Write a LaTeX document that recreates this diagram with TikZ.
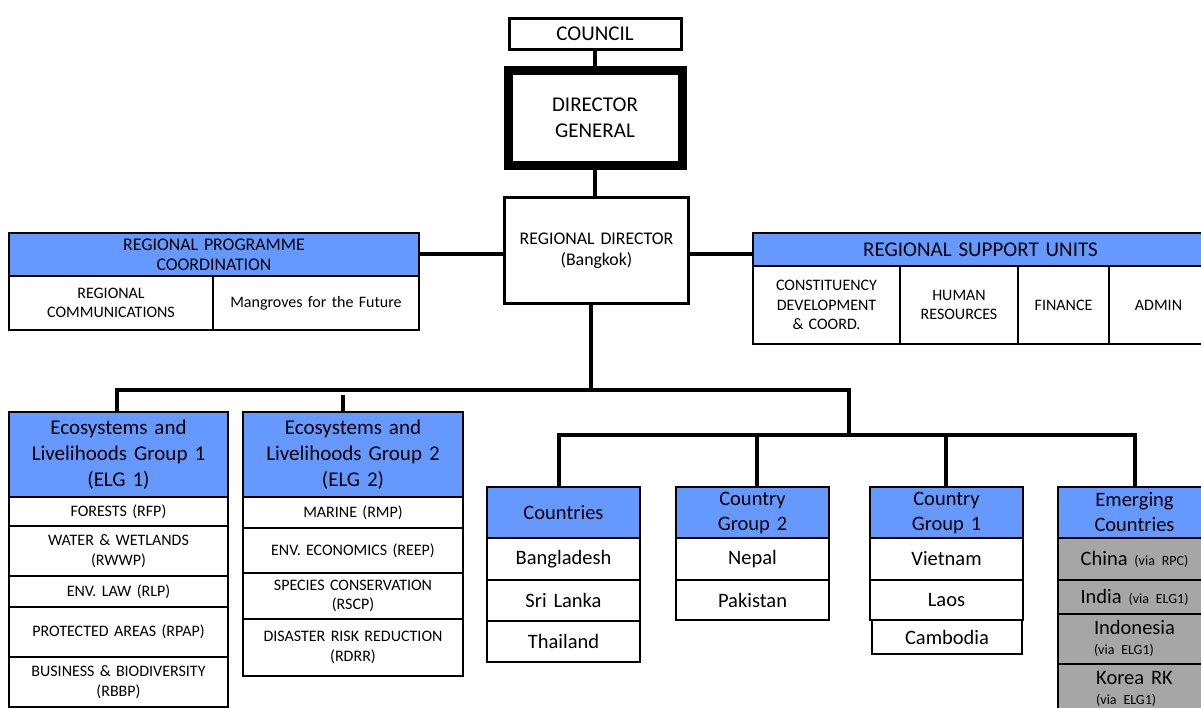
\documentclass[tikz,border=0pt]{standalone}
\usepackage{fontspec}
\setmainfont{Carlito}
\frenchspacing
\definecolor{hblue}{HTML}{6699FF}
\definecolor{egrey}{HTML}{A6A6A6}
\newcommand\orgcell[7]{%
  \pgfmathsetmacro\ocw{#4-#2}%
  \pgfmathsetmacro\och{#5-#3}%
  \pgfmathsetmacro\otw{#4-#2-8}%
  \node[#6, minimum width=\ocw pt, minimum height=\och pt, text width=\otw pt] (#1) at (#2,#3) {#7};}
\newcommand\fsm{\fontsize{14}{16}\selectfont}
\tikzset{
  cellbase/.style={draw=black, line width=1.3pt, inner sep=0pt, outer sep=0pt, align=center, anchor=north west, text=black},
  fbig/.style={font=\fontsize{21}{26}\selectfont\frenchspacing},
  fmid/.style={font=\fontsize{17.8}{21}\selectfont\frenchspacing},
  fcty/.style={font=\fontsize{20.5}{25}\selectfont\frenchspacing},
  hdr/.style={cellbase, fill=hblue},
  sub/.style={cellbase, fill=white, font=\fontsize{16}{19.5}\selectfont\frenchspacing},
  cty/.style={cellbase, fill=white, fcty},
  emr/.style={cellbase, fill=egrey, fcty},
  conn/.style={draw=black, line width=4pt}
}
\begin{document}
\begin{tikzpicture}[x=1pt,y=-1pt]
\useasboundingbox (0,0) rectangle (1201,708);
\fill[white] (0,0) rectangle (1201,708);
\clip (0,0) rectangle (1201,708);
% top chain
\orgcell{council}{509}{18.5}{681}{49.5}{cellbase, line width=3pt, fbig}{COUNCIL}
\orgcell{dg}{508}{70.5}{682}{165.5}{cellbase, line width=9pt, fbig}{DIRECTOR\\GENERAL}
\orgcell{rd}{504.5}{197.5}{688.5}{303.5}{cellbase, line width=3pt, fmid}{REGIONAL DIRECTOR\\(Bangkok)}
% regional programme coordination
\orgcell{rpch}{9}{233}{419}{276}{hdr, font=\fontsize{17.8}{20}\selectfont}{REGIONAL PROGRAMME\\COORDINATION}
\orgcell{rpc1}{9}{276}{213}{330}{sub}{REGIONAL\\COMMUNICATIONS}
\orgcell{rpc2}{213}{276}{419}{330}{sub}{Mangroves for the Future}
% regional support units
\orgcell{rsuh}{753}{233}{1208}{266}{hdr, fbig}{REGIONAL SUPPORT UNITS}
\orgcell{rsu1}{753}{266}{900}{344}{sub}{CONSTITUENCY\\DEVELOPMENT\\\& COORD.}
\orgcell{rsu2}{900}{266}{1018}{344}{sub}{HUMAN\\RESOURCES}
\orgcell{rsu3}{1018}{266}{1109}{344}{sub}{FINANCE}
\orgcell{rsu4}{1109}{266}{1208}{344}{sub}{ADMIN}
% ELG 1
\orgcell{e1h}{9}{412}{228}{497}{hdr, fbig}{Ecosystems and\\Livelihoods Group 1\\(ELG 1)}
\orgcell{e1a}{9}{497}{228}{526}{sub}{FORESTS (RFP)}
\orgcell{e1b}{9}{526}{228}{576}{sub}{WATER \& WETLANDS\\(RWWP)}
\orgcell{e1c}{9}{576}{228}{607}{sub}{ENV. LAW (RLP)}
\orgcell{e1d}{9}{607}{228}{657}{sub}{PROTECTED AREAS (RPAP)}
\orgcell{e1e}{9}{657}{228}{707}{sub}{BUSINESS \& BIODIVERSITY\\(RBBP)}
% ELG 2
\orgcell{e2h}{243}{412}{463}{497}{hdr, fbig}{Ecosystems and\\Livelihoods Group 2\\(ELG 2)}
\orgcell{e2a}{243}{497}{463}{528}{sub}{MARINE (RMP)}
\orgcell{e2b}{243}{528}{463}{573}{sub}{ENV. ECONOMICS (REEP)}
\orgcell{e2c}{243}{573}{463}{619}{sub}{SPECIES CONSERVATION\\(RSCP)}
\orgcell{e2d}{243}{619}{463}{676}{sub}{DISASTER RISK REDUCTION\\(RDRR)}
% Countries
\orgcell{ch}{487}{487}{640}{538}{hdr, fcty}{Countries}
\orgcell{c1}{487}{538}{640}{580}{cty}{Bangladesh}
\orgcell{c2}{487}{580}{640}{621}{cty}{Sri Lanka}
\orgcell{c3}{487}{621}{640}{662}{cty}{Thailand}
% Country Group 2
\orgcell{g2h}{676}{487}{829}{538}{hdr, fcty}{Country\\Group 2}
\orgcell{g2a}{676}{538}{829}{580}{cty}{Nepal}
\orgcell{g2b}{676}{580}{829}{620}{cty}{Pakistan}
% Country Group 1
\orgcell{g1h}{870}{487}{1023}{538}{hdr, fcty}{Country\\Group 1}
\orgcell{g1a}{870}{538}{1023}{580}{cty}{Vietnam}
\orgcell{g1b}{870}{580}{1023}{620}{cty}{Laos}
\orgcell{g1c}{872}{620}{1022}{654}{cty}{Cambodia}
% Emerging countries
\orgcell{emh}{1058}{487}{1211}{538}{hdr, fcty}{Emerging\\Countries}
\orgcell{em1}{1058}{538}{1211}{580}{emr}{China {\fsm (via RPC)}}
\orgcell{em2}{1058}{580}{1211}{614}{emr}{India {\fsm (via ELG1)}}
\orgcell{em3}{1058}{614}{1211}{664}{emr}{\begin{tabular}{@{}l@{}}Indonesia\\[-5pt]{\fsm (via ELG1)}\end{tabular}}
\orgcell{em4}{1058}{664}{1211}{714}{emr}{\begin{tabular}{@{}l@{}}Korea RK\\[-5pt]{\fsm (via ELG1)}\end{tabular}}
% connector coordinates
\coordinate (busA) at (591,390);
\coordinate (busR) at (849,390);
\coordinate (busB) at (849,435);
\coordinate (e2top) at (343,395);
\coordinate (k1) at (559,435);
\coordinate (k2) at (757,435);
\coordinate (k3) at (946,435);
\coordinate (k4) at (1135,435);
% connectors
\draw[conn] (council.south) -- (dg.north);
\draw[conn] (dg.south) -- (dg.south |- rd.north);
\draw[conn] (rpch.east) -- (rpch.east -| rd.west);
\draw[conn] (rd.east |- rpch.east) -- (rsuh.west |- rpch.east);
\draw[conn] (rd.south -| busA) -- (busA);
\draw[conn] (e1h.north -| 117,0) |- (busR) -- (busB);
\draw[conn] (e2top) -- (e2top |- e2h.north);
\draw[conn] (k1 |- ch.north) -- (k1) -- (k4) -- (k4 |- emh.north);
\draw[conn] (k2) -- (k2 |- g2h.north);
\draw[conn] (k3) -- (k3 |- g1h.north);
\end{tikzpicture}
\end{document}
